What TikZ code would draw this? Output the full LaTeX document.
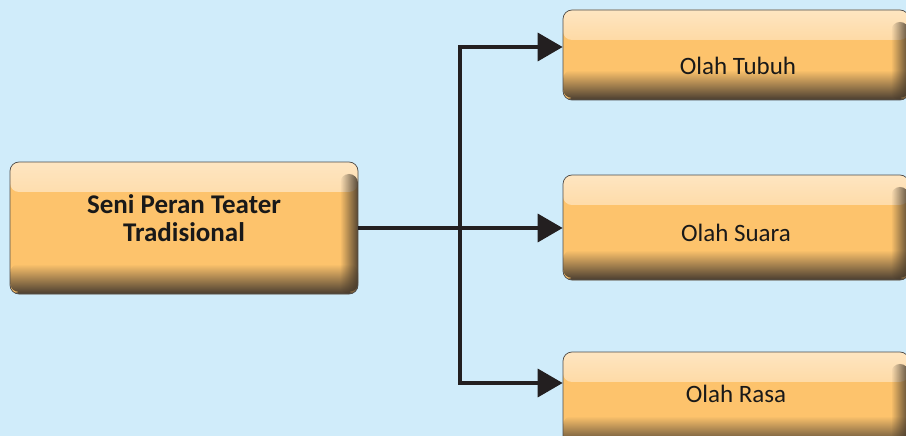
\documentclass[tikz,border=0pt]{standalone}
\usepackage{fontspec}
\setmainfont{Carlito}
\usetikzlibrary{arrows.meta,fadings}
\definecolor{bg}{HTML}{D0ECFA}
\definecolor{boxtop}{HTML}{FFE6C2}
\definecolor{boxmid}{HTML}{FDC36C}
\definecolor{boxdark}{HTML}{554634}
\definecolor{lineblk}{HTML}{231F20}
\tikzfading[name=fadeR, left color=transparent!100, right color=transparent!0]
\tikzfading[name=fadeD, top color=transparent!0, bottom color=transparent!100]
\tikzset{
  box/.style={draw=gray!60!black, line width=0.7pt, rounded corners=9pt, fill=boxmid, inner sep=0pt,
    path picture={
      \fill[boxtop, path fading=fadeD]
        (path picture bounding box.north west) rectangle ([yshift=-30pt]path picture bounding box.north east);
      \shade[top color=boxmid, bottom color=boxdark]
        ([yshift=30pt]path picture bounding box.south west) rectangle ([yshift=2pt]path picture bounding box.south east);
      \fill[boxdark] ([yshift=2pt]path picture bounding box.south west) rectangle (path picture bounding box.south east);
      \fill[boxdark!80!black, path fading=fadeR, fill opacity=0.9]
        ([xshift=-18pt,yshift=-12pt]path picture bounding box.north east) rectangle (path picture bounding box.south east);
    }},
  lbl/.style={font=\fontsize{25}{29}\selectfont, text=black!90},
  conn/.style={draw=lineblk, line width=3.6pt, line join=miter, -{Triangle[length=25pt,width=28pt]}}
}
\begin{document}
\begin{tikzpicture}[x=1pt,y=-1pt]
\useasboundingbox (0,0) rectangle (906,436);
\fill[bg] (0,0) rectangle (906,436);
% boxes
\node[box, minimum width=348pt, minimum height=132pt] (src) at (184,228) {};
\node[box, minimum width=346pt, minimum height=90pt] (tubuh) at (736,55) {};
\node[box, minimum width=346pt, minimum height=105pt] (suara) at (736,227.5) {};
\node[box, minimum width=346pt, minimum height=94pt] (rasa) at (736,399) {};
% texts
\node[font=\bfseries\fontsize{27}{28}\selectfont, align=center, text=black!90] (srct) at (184,218) {Seni Peran Teater\\Tradisional};
\node[lbl] (tubuht) at (738,66) {Olah Tubuh};
\node[lbl] (suarat) at (736,233) {Olah Suara};
\node[lbl] (rasat) at (736,394) {Olah Rasa};
% connectors
\coordinate (split) at (460,228);
\coordinate (ta) at ([yshift=8pt]tubuh.west);
\coordinate (ra) at ([yshift=16pt]rasa.west);
\draw[conn] (src.east) -- (src.east -| suara.west);
\draw[conn] (split) |- (ta);
\draw[conn] (split) |- (ra);
\end{tikzpicture}
\end{document}
